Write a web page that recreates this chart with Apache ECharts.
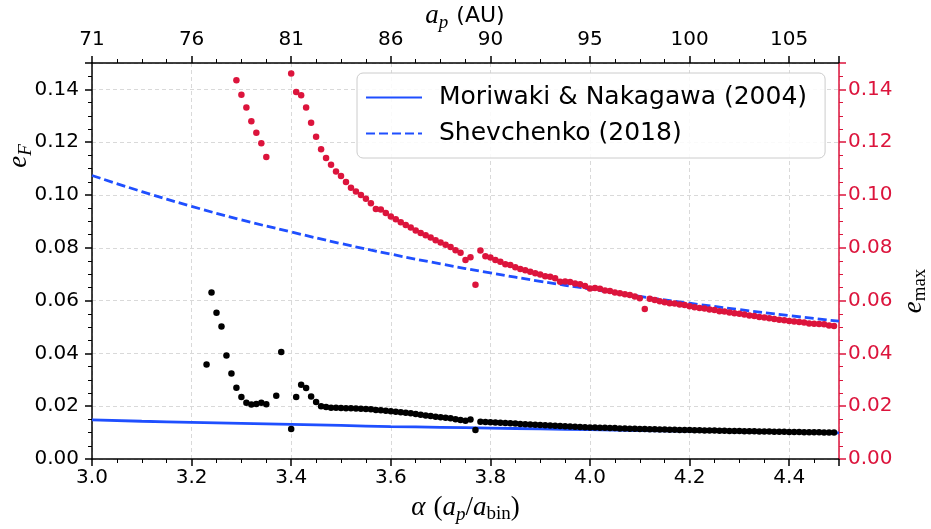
<!DOCTYPE html>
<html><head><meta charset="utf-8">
<script src="https://cdn.jsdelivr.net/npm/echarts@6/dist/echarts.min.js"></script>
<style>html,body{margin:0;padding:0;background:#fff}#c{width:931px;height:529px}</style>
</head><body><div id="c"></div><script>
// ---- data ----
const alphaMin = 3.0, alphaMax = 4.5, alphaInterval = 0.2, alphaStep = 0.01;
const topTickLabels = ['71','76','81','86','90','95','100','105'];

const curveAlpha = [3.0,3.1,3.2,3.3,3.4,3.5,3.6,3.7,3.8,3.9,4.0,4.1,4.2,4.3,4.4,4.5];
const moriwakiValues = [0.0148,0.0143,0.0139,0.0135,0.0131,0.0127,0.0123,0.0120,0.0117,0.0114,0.0111,0.0108,0.0106,0.0103,0.0101,0.0099];
const shevchenkoValues = [0.1074,0.1013,0.0957,0.0906,0.0860,0.0816,0.0776,0.0739,0.0705,0.0673,0.0644,0.0616,0.0590,0.0566,0.0543,0.0522];

// e_F (black points), alpha grid step 0.01
const eFStart1 = 3.23;
const eFValues1 = [0.0358,0.0631,0.0554,0.0502,0.0392,0.0324,0.0270,0.0235,0.0213,0.0206,0.0208,0.0213,0.0207];
const eFStart2 = 3.37;
const eFValues2 = [0.0240,0.0405];
const eFStart3 = 3.40;
const eFValues3 = [0.0114,0.0235,0.0281,0.0269,0.0237,0.0216,0.0200,0.0197,0.0194,0.0194,
  0.0193,0.0192,0.0192,0.0191,0.0190,0.0189,0.0188,0.0186,0.0185,0.0183,
  0.0181,0.0179,0.0177,0.0175,0.0173,0.0170,0.0168,0.0165,0.0163,0.0160,
  0.0158,0.0156,0.0154,0.0151,0.0148,0.0145,0.0150,0.0110,0.0141,0.0140,
  0.0139,0.0138,0.0137,0.0136,0.0135,0.0134,0.0133,0.0132,0.0131,0.0130,
  0.0129,0.0128,0.0127,0.0126,0.0125,0.0124,0.0123,0.0122,0.0121,0.0120,
  0.0119,0.0119,0.0118,0.0118,0.0117,0.0117,0.0116,0.0116,0.0115,0.0115,
  0.0114,0.0114,0.0113,0.0113,0.0112,0.0112,0.0111,0.0111,0.0110,0.0110,
  0.0110,0.0109,0.0109,0.0108,0.0108,0.0108,0.0107,0.0107,0.0106,0.0106,
  0.0106,0.0105,0.0105,0.0105,0.0104,0.0104,0.0104,0.0103,0.0103,0.0103,
  0.0102,0.0102,0.0102,0.0101,0.0101,0.0101,0.0101,0.0100,0.0100,0.0100];

// e_max (red points)
const eMaxStart1 = 3.29;
const eMaxValues1 = [0.1435,0.1380,0.1331,0.1279,0.1236,0.1196,0.1144];
const eMaxStart2 = 3.40;
const eMaxValues2 = [0.1460,0.1390,0.1378,0.1331,0.1274,0.1221,0.1173,0.1140,0.1115,0.1089,
  0.1072,0.1049,0.1027,0.1013,0.1000,0.0986,0.0969,0.0947,0.0945,0.0932,
  0.0919,0.0908,0.0897,0.0886,0.0877,0.0866,0.0856,0.0848,0.0839,0.0829,
  0.0820,0.0812,0.0803,0.0791,0.0781,0.0754,0.0764,0.0660,0.0790,0.0768,
  0.0763,0.0754,0.0747,0.0738,0.0735,0.0726,0.0720,0.0715,0.0709,0.0704,
  0.0699,0.0692,0.0690,0.0685,0.0671,0.0672,0.0670,0.0665,0.0662,0.0655,
  0.0646,0.0648,0.0645,0.0638,0.0636,0.0631,0.0628,0.0624,0.0621,0.0616,
  0.0609,0.0568,0.0607,0.0602,0.0598,0.0594,0.0590,0.0589,0.0585,0.0583,
  0.0579,0.0575,0.0572,0.0570,0.0566,0.0564,0.0560,0.0559,0.0555,0.0552,
  0.0550,0.0547,0.0544,0.0542,0.0538,0.0536,0.0533,0.0530,0.0527,0.0526,
  0.0523,0.0521,0.0519,0.0517,0.0513,0.0512,0.0511,0.0510,0.0506,0.0504];

// ---- build ----
function seg(start, vals){ return vals.map((v,i)=>[+(start + i*alphaStep).toFixed(2), v]); }
const eFData = [].concat(seg(eFStart1,eFValues1), seg(eFStart2,eFValues2), seg(eFStart3,eFValues3));
const eMaxData = [].concat(seg(eMaxStart1,eMaxValues1), seg(eMaxStart2,eMaxValues2));
const zip = (xs, ys) => xs.map((x,i)=>[x, ys[i]]);

const RED = '#dc143c', BLUE = '#1f4fff';
const SANS = 'DejaVu Sans', SERIF = 'Liberation Serif';
const gridDash = {show:true, lineStyle:{color:'#d9d9d9', type:[4,3], width:1}};
const tick = c => ({show:true, inside:false, length:7, lineStyle:{color:c, width:1.5}});
const minor = c => ({show:true, splitNumber:4, length:4, lineStyle:{color:c, width:1}});
const mathRich = {
  i:{fontFamily:SERIF, fontStyle:'italic', fontSize:27, color:'#000'},
  r:{fontFamily:SERIF, fontSize:27, color:'#000'},
  sp:{fontFamily:SERIF, fontSize:27, color:'#000', width:8},
  sub:{fontFamily:SERIF, fontStyle:'italic', fontSize:19, color:'#000', padding:[13,0,0,0]},
  subr:{fontFamily:SERIF, fontSize:19, color:'#000', padding:[13,0,0,0]},
  s:{fontFamily:SANS, fontSize:22, color:'#000'}
};

const chart = echarts.init(document.getElementById('c'), null, {renderer:'canvas'});
chart.setOption({
  animation:false,
  backgroundColor:'#fff',
  grid:{left:92, right:92, top:63, bottom:70, containLabel:false, outerBoundsMode:'none'},
  legend:{
    data:['Moriwaki & Nakagawa (2004)','Shevchenko (2018)'],
    orient:'vertical', left:357, top:73,
    padding:[12,18,12,8], itemGap:11, itemWidth:56, itemHeight:14,
    itemStyle:{opacity:0},
    backgroundColor:'rgba(255,255,255,0.85)', borderColor:'#cccccc', borderWidth:1, borderRadius:6,
    textStyle:{fontFamily:SANS, fontSize:25, color:'#000', padding:[0,0,0,12]}
  },
  xAxis:[
    {type:'value', min:alphaMin, max:alphaMax, interval:alphaInterval, position:'bottom',
     axisLine:{show:true, onZero:false, lineStyle:{color:'#000', width:1.5}},
     axisTick:tick('#000'), minorTick:minor('#000'),
     axisLabel:{fontFamily:SANS, fontSize:20, color:'#000', margin:9, showMaxLabel:false,
       formatter:v=>v.toFixed(1)},
     splitLine:gridDash,
     name:'{i|α}{sp| }{r|(}{i|a}{sub|p}{r|/}{i|a}{subr|bin}{r|)}', nameLocation:'middle', nameGap:33,
     nameTextStyle:{rich:mathRich}},
    {type:'value', min:alphaMin, max:alphaMax, interval:alphaInterval, position:'top',
     axisLine:{show:true, onZero:false, lineStyle:{color:'#000', width:1.5}},
     axisTick:tick('#000'), minorTick:minor('#000'),
     axisLabel:{fontFamily:SANS, fontSize:20, color:'#000', margin:13, showMaxLabel:false,
       formatter:v=>{const k=Math.round((v-alphaMin)/alphaInterval); return Math.abs(v-(alphaMin+k*alphaInterval))<1e-6 ? (topTickLabels[k]||'') : '';}},
     splitLine:{show:false}}
  ],
  yAxis:[
    {type:'value', min:0, max:0.15, interval:0.02, position:'left',
     axisLine:{show:true, onZero:false, lineStyle:{color:'#000', width:1.5}},
     axisTick:tick('#000'), minorTick:minor('#000'),
     axisLabel:{fontFamily:SANS, fontSize:20, color:'#000', margin:13, showMaxLabel:false,
       formatter:v=>v.toFixed(2)},
     splitLine:gridDash},
    {type:'value', min:0, max:0.15, interval:0.02, position:'right',
     axisLine:{show:true, onZero:false, lineStyle:{color:RED, width:1.5}},
     axisTick:tick(RED), minorTick:minor(RED),
     axisLabel:{fontFamily:SANS, fontSize:20, color:RED, margin:9, showMaxLabel:false,
       formatter:v=>v.toFixed(2)},
     splitLine:{show:false}}
  ],
  graphic:[
    {type:'text', x:465, y:16,
     style:{text:'{i|a}{sub|p}{sp| }{s|(AU)}', textAlign:'center', textVerticalAlign:'middle', rich:mathRich}},
    {type:'text', x:19, y:156, rotation:Math.PI/2,
     style:{text:'{i|e}{sub|F}', textAlign:'center', textVerticalAlign:'middle', rich:mathRich}},
    {type:'text', x:914, y:291, rotation:Math.PI/2,
     style:{text:'{i|e}{sub|max}', textAlign:'center', textVerticalAlign:'middle',
       rich:{i:{fontFamily:SERIF, fontStyle:'italic', fontSize:27, color:RED},
             sub:{fontFamily:SERIF, fontSize:19, color:RED, padding:[13,0,0,0]}}}}
  ],
  series:[
    {name:'Moriwaki & Nakagawa (2004)', type:'line', xAxisIndex:0, yAxisIndex:0,
     data:zip(curveAlpha, moriwakiValues), smooth:true, showSymbol:false, symbol:'none',
     lineStyle:{color:BLUE, width:2.8}, itemStyle:{color:BLUE}, z:2},
    {name:'Shevchenko (2018)', type:'line', xAxisIndex:0, yAxisIndex:0,
     data:zip(curveAlpha, shevchenkoValues), smooth:true, showSymbol:false, symbol:'none',
     lineStyle:{color:BLUE, width:2.8, type:[9,4]}, itemStyle:{color:BLUE}, z:2},
    {name:'eF', type:'scatter', xAxisIndex:0, yAxisIndex:0, data:eFData,
     symbolSize:6.5, itemStyle:{color:'#000', opacity:1}, z:3},
    {name:'emax', type:'scatter', xAxisIndex:0, yAxisIndex:1, data:eMaxData,
     symbolSize:6.5, itemStyle:{color:RED, opacity:1}, z:3}
  ]
});
</script></body></html>
